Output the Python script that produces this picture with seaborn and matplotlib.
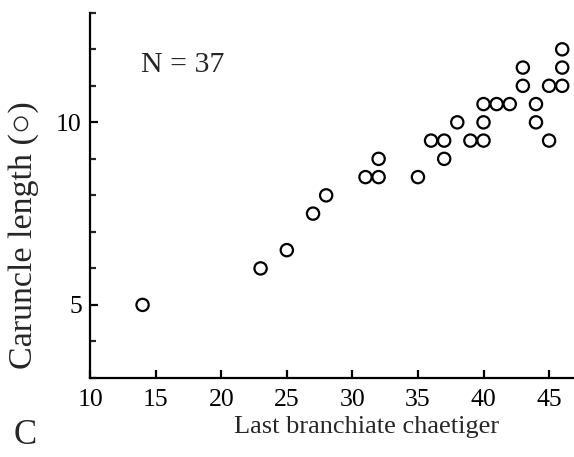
import matplotlib
matplotlib.use("Agg")
import matplotlib.pyplot as plt
from matplotlib.ticker import MultipleLocator
import seaborn as sns
import pandas as pd

# Last branchiate chaetiger vs caruncle length
chaetiger = [14, 23, 25, 27, 28, 31, 32, 32, 35, 36, 37, 37, 38, 39, 40, 40, 40,
             41, 42, 43, 43, 44, 44, 45, 45, 46, 46, 46]
caruncle = [5, 6, 6.5, 7.5, 8, 8.5, 8.5, 9, 8.5, 9.5, 9.5, 9, 10, 9.5, 9.5, 10, 10.5,
            10.5, 10.5, 11, 11.5, 10.5, 10, 9.5, 11, 11, 11.5, 12]
x_ticks = [10, 15, 20, 25, 30, 35, 40, 45]
y_ticks = [5, 10]

df = pd.DataFrame({"chaetiger": chaetiger, "caruncle": caruncle})

sns.set_style("ticks")
plt.rcParams["font.family"] = ["Liberation Serif", "DejaVu Serif"]

fig = plt.figure(figsize=(5.74, 4.57), dpi=100)
ax = fig.add_axes([0.157, 0.173, 0.843, 0.799])

sns.scatterplot(data=df, x="chaetiger", y="caruncle", ax=ax, marker="o",
                s=78, facecolor="none", edgecolor="black", linewidth=1.6,
                legend=False, clip_on=False)

ax.set_xlim(10, 46.9)
ax.set_ylim(3, 13)
ax.set_xticks(x_ticks)
ax.set_yticks(y_ticks)
ax.yaxis.set_minor_locator(MultipleLocator(1))

for side in ("top", "right"):
    ax.spines[side].set_visible(False)
for side in ("left", "bottom"):
    ax.spines[side].set_linewidth(1.6)
    ax.spines[side].set_color("black")

ax.tick_params(which="major", direction="in", length=6, width=1.6,
               labelsize=18.5, colors="black")
ax.tick_params(axis="x", which="major", pad=8)
ax.tick_params(axis="y", which="major", pad=6)
ax.tick_params(which="minor", direction="in", length=4, width=1.6)

ax.set_xlabel("Last branchiate chaetiger", fontsize=19)
ax.xaxis.set_label_coords(0.571, -0.104)
ax.set_ylabel("Caruncle length (\u25CB)", fontsize=24.5,
              family=["Liberation Serif", "DejaVu Sans"])
ax.yaxis.set_label_coords(-0.106, 0.39)

ax.text(0.105, 0.857, "N = 37", transform=ax.transAxes, fontsize=21.5,
        ha="left", va="center")
fig.text(0.044, 0.048, "C", fontsize=25, ha="center", va="center")

fig.savefig("out.png", dpi=100)
